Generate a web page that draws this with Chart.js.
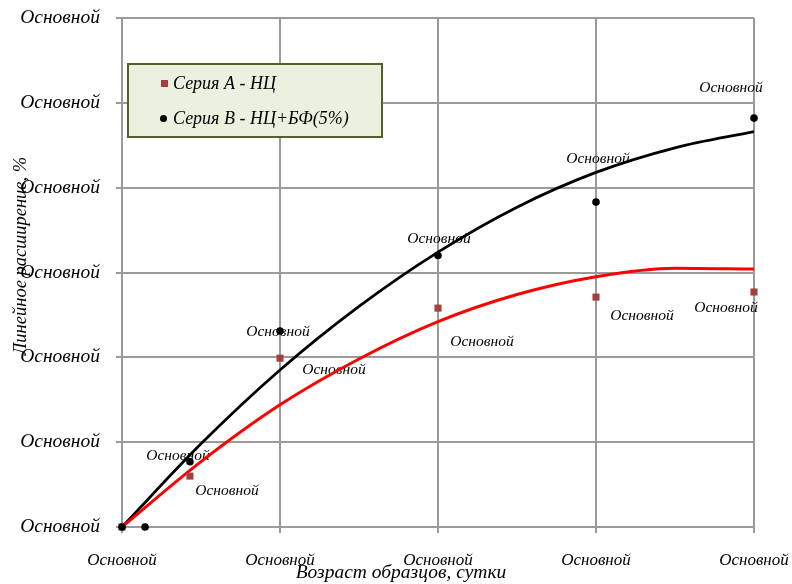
<!DOCTYPE html>
<html lang="ru">
<head>
<meta charset="UTF-8">
<title>Линейное расширение</title>
<script src="https://cdn.jsdelivr.net/npm/chart.js"></script>
<style>
  html, body { margin: 0; padding: 0; background: #fff; }
  #chart { display: block; }
</style>
</head>
<body>
<canvas id="chart" width="792" height="584"></canvas>

<script>
// Tick labels (every tick reads the same word in the source)
const tickLabel = 'Основной';
const pointLabel = 'Основной';

// Series A - НЦ
const seriesAX = [0, 0.43, 1, 2, 3, 4];
const seriesAY = [0, 0.60, 1.99, 2.58, 2.71, 2.77];

// Series B - НЦ+БФ(5%)
const seriesBX = [0, 0.146, 0.43, 1, 2, 3, 4];
const seriesBY = [0, 0, 0.77, 2.31, 3.20, 3.83, 4.82];

// Trend lines
const trendX = [0, 0.5, 1, 1.5, 2, 2.5, 3, 3.5, 4];
const trendA = [0, 0.77, 1.44, 1.98, 2.42, 2.74, 2.95, 3.05, 3.04];
const trendB = [0, 0.98, 1.85, 2.60, 3.24, 3.77, 4.18, 4.47, 4.66];

// where each point label sits relative to its point (px)
const labelOffsetsA = [null, [37, 15], [54, 12], [44, 34], [46, 19], [-28, 16]];
const labelOffsetsB = [null, null, [-12, -6], [-2, 1], [1, -17], [2, -43], [-23, -30]];

const serif = '"Liberation Serif", "Times New Roman", serif';
const gridColor = '#9a9a9a';
const colorA = '#a3403d';

const toXY = (xs, ys) => xs.map((x, i) => ({ x: x, y: ys[i] }));

const extras = {
  id: 'extras',
  beforeDatasetsDraw(chart) {
    const ctx = chart.ctx;
    ctx.save();
    ctx.font = 'italic 15.5px ' + serif;
    ctx.fillStyle = '#000';
    ctx.textAlign = 'center';
    ctx.textBaseline = 'middle';
    [[0, labelOffsetsA], [1, labelOffsetsB]].forEach(([di, offs]) => {
      chart.getDatasetMeta(di).data.forEach((pt, i) => {
        const o = offs[i];
        if (!o) return;
        ctx.fillText(pointLabel, pt.x + o[0], pt.y + o[1]);
      });
    });
    ctx.restore();
  },
  afterDraw(chart) {
    const ctx = chart.ctx;
    ctx.save();

    // legend box
    ctx.fillStyle = '#ebf1de';
    ctx.fillRect(128, 64, 254, 73);
    ctx.strokeStyle = '#4f6228';
    ctx.lineWidth = 2;
    ctx.strokeRect(128, 64, 254, 73);

    ctx.fillStyle = colorA;
    ctx.fillRect(161, 80, 7, 7);
    ctx.fillStyle = '#000';
    ctx.beginPath();
    ctx.arc(163.5, 118.5, 3.5, 0, Math.PI * 2);
    ctx.fill();

    ctx.font = 'italic 18px ' + serif;
    ctx.textAlign = 'left';
    ctx.textBaseline = 'middle';
    ctx.fillText(chart.data.datasets[0].label, 173, 84);
    ctx.fillText(chart.data.datasets[1].label, 173, 119);

    // axis titles
    ctx.textAlign = 'center';
    ctx.textBaseline = 'alphabetic';
    ctx.font = 'italic 19.5px ' + serif;
    ctx.fillText('Возраст образцов, сутки', 401, 578);
    ctx.font = 'italic 18.5px ' + serif;
    ctx.textBaseline = 'middle';
    ctx.translate(21, 256);
    ctx.rotate(-Math.PI / 2);
    ctx.fillText('Линейное расширение, %', 0, 0);

    ctx.restore();
  }
};

const ctx = document.getElementById('chart').getContext('2d');
const chart = new Chart(ctx, {
  type: 'scatter',
  data: {
    datasets: [{
      label: 'Серия A - НЦ',
      data: toXY(seriesAX, seriesAY),
      pointStyle: 'rect',
      pointRadius: 5,
      backgroundColor: colorA,
      borderColor: colorA,
      borderWidth: 0,
      clip: false,
      order: 1
    }, {
      label: 'Серия B - НЦ+БФ(5%)',
      data: toXY(seriesBX, seriesBY),
      pointStyle: 'circle',
      pointRadius: 3.8,
      backgroundColor: '#000',
      borderColor: '#000',
      borderWidth: 0,
      clip: false,
      order: 0
    }, {
      label: 'trend A',
      data: toXY(trendX, trendA),
      showLine: true,
      pointRadius: 0,
      borderColor: '#ff0000',
      borderWidth: 3,
      cubicInterpolationMode: 'monotone',
      order: 2
    }, {
      label: 'trend B',
      data: toXY(trendX, trendB),
      showLine: true,
      pointRadius: 0,
      borderColor: '#000',
      borderWidth: 2.8,
      cubicInterpolationMode: 'monotone',
      order: 2
    }]
  },
  options: {
    responsive: false,
    animation: false,
    layout: { padding: { top: 18, right: 38, bottom: 0, left: 0 } },
    plugins: {
      legend: { display: false },
      tooltip: { enabled: false }
    },
    scales: {
      x: {
        type: 'linear',
        min: 0,
        max: 4,
        afterFit: (scale) => {
          scale.height = 57;
          scale.paddingLeft = 0;
          scale.paddingRight = 0;
        },
        ticks: {
          stepSize: 1,
          padding: 17,
          color: '#000',
          font: { family: serif, size: 17, style: 'italic' },
          callback: () => tickLabel
        },
        grid: { color: gridColor, lineWidth: 2, tickLength: 6 },
        border: { color: gridColor, width: 2 }
      },
      y: {
        min: 0,
        max: 6,
        afterFit: (scale) => {
          scale.width = 122;
          scale.paddingTop = 0;
          scale.paddingBottom = 0;
        },
        ticks: {
          stepSize: 1,
          padding: 16,
          color: '#000',
          font: { family: serif, size: 19.5, style: 'italic' },
          callback: () => tickLabel
        },
        grid: { color: gridColor, lineWidth: 2, tickLength: 6 },
        border: { color: gridColor, width: 2 }
      }
    }
  },
  plugins: [extras]
});
</script>
</body>
</html>
